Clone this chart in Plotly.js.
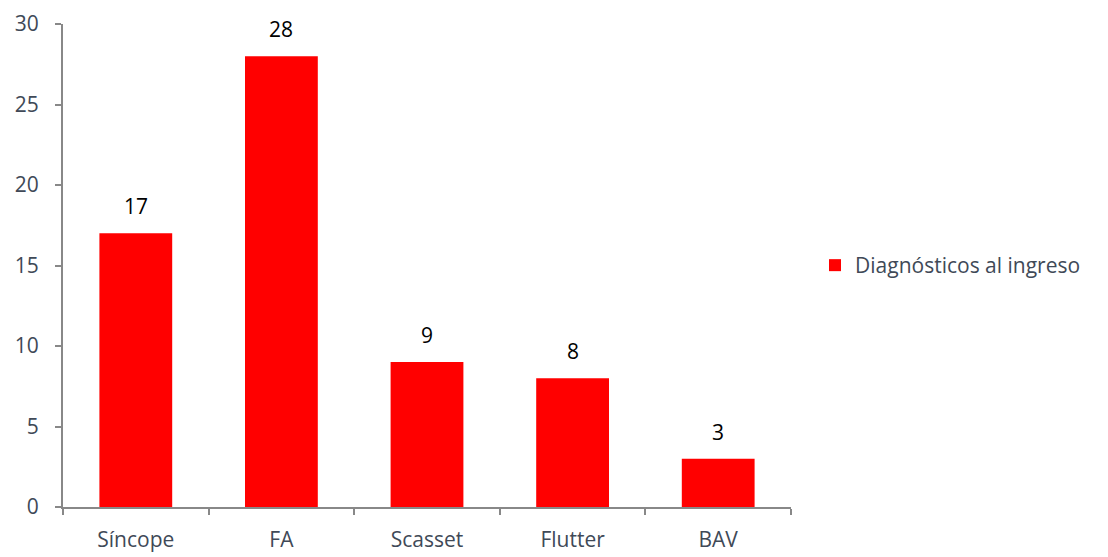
<!DOCTYPE html>
<html><head><meta charset="utf-8">
<script src="https://cdn.plot.ly/plotly-3.0.1.min.js"></script>
<style>body{margin:0;background:#fff}#c{width:1108px;height:557px}</style>
</head><body><div id="c"></div>
<script>
var categories = ["Síncope", "FA", "Scasset", "Flutter", "BAV"];
var values = [17, 28, 9, 8, 3];
var seriesName = "Diagnósticos al ingreso";

var trace = {
  type: "bar", x: categories, y: values, name: seriesName,
  marker: {color: "#ff0000", line: {color: "#ffffff", width: 0}},
  width: 0.5, showlegend: true
};
var annotations = categories.map(function(c, i){
  return {x: c, y: values[i], text: String(values[i]), showarrow: false,
    yshift: 27, font: {family: "'Open Sans', Lato, sans-serif", size: 21, color: "#000"}};
});
var layout = {
  width: 1108, height: 557,
  margin: {l: 63, r: 317, t: 24, b: 50},
  paper_bgcolor: "#fff", plot_bgcolor: "#fff",
  font: {family: "'Open Sans', Lato, sans-serif", size: 21, color: "#404957"},
  xaxis: {type: "category", showline: true, linecolor: "#888", linewidth: 2,
    ticks: "outside", tickson: "boundaries", ticklen: 6, tickcolor: "#888", tickwidth: 2,
    showgrid: false, ticklabelstandoff: 13, tickfont: {size: 21, color: "#404957"}},
  yaxis: {range: [0, 30], dtick: 5, showline: true, linecolor: "#888", linewidth: 2,
    ticks: "outside", ticklen: 6, tickcolor: "#888", tickwidth: 2, showgrid: false,
    zeroline: false, ticklabelstandoff: 12, tickfont: {size: 21, color: "#404957"}},
  legend: {x: 1.033, y: 0.5, yanchor: "middle", xanchor: "left",
    font: {size: 21, color: "#404957"}},
  annotations: annotations,
  bargap: 0.5
};
Plotly.newPlot("c", [trace], layout, {displayModeBar: false});
</script></body></html>
